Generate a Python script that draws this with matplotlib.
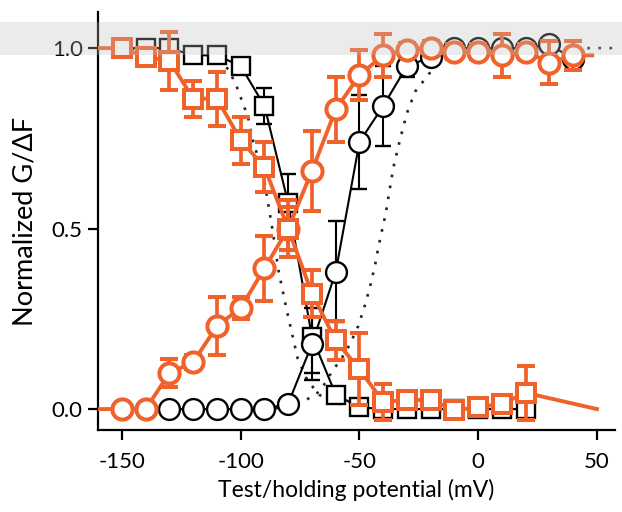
import numpy as np
import matplotlib.pyplot as plt
from matplotlib.patches import Rectangle

plt.rcParams['axes.unicode_minus'] = False

# test / holding potentials (mV)
volts = [-150, -140, -130, -120, -110, -100, -90, -80, -70, -60, -50,
         -40, -30, -20, -10, 0, 10, 20, 30, 40]

# black: conductance activation (circles) and inactivation (squares)
g_act = [0.0, 0.0, 0.0, 0.0, 0.0, 0.0, 0.0, 0.015, 0.18, 0.38, 0.74,
         0.84, 0.95, 0.975, 1.0, 1.0, 1.0, 1.0, 1.01, 0.97]
g_act_err = [0, 0, 0, 0, 0, 0, 0, 0.01, 0.1, 0.14, 0.13,
             0.11, 0.03, 0.02, 0.01, 0.01, 0.01, 0.01, 0.01, 0.02]
g_inact = [1.0, 1.0, 1.0, 0.98, 0.98, 0.95, 0.84, 0.57, 0.2, 0.04, 0.005,
           0.0, 0.0, 0.0, 0.0, 0.0, 0.0, 0.0]
g_inact_err = [0.01, 0.01, 0.01, 0.01, 0.01, 0.01, 0.05, 0.08, 0.1, 0.02, 0.01,
               0.01, 0.01, 0.01, 0.01, 0.01, 0.01, 0.02]

# orange: fluorescence activation (circles) and inactivation (squares)
f_act = [0.0, 0.0, 0.10, 0.13, 0.23, 0.28, 0.39, 0.50, 0.66, 0.83, 0.925,
         0.98, 0.995, 1.0, 0.99, 0.99, 0.98, 0.99, 0.96, 0.98]
f_act_err = [0, 0, 0.04, 0.02, 0.08, 0.03, 0.09, 0.06, 0.11, 0.09, 0.07,
             0.06, 0.02, 0.02, 0.02, 0.02, 0.06, 0.02, 0.06, 0.04]
f_inact = [1.0, 0.975, 0.965, 0.86, 0.86, 0.745, 0.67, 0.50, 0.32, 0.19, 0.11,
           0.02, 0.025, 0.025, -0.003, 0.005, 0.015, 0.045]
f_inact_err = [0.02, 0.01, 0.08, 0.05, 0.075, 0.065, 0.07, 0.08, 0.065, 0.055, 0.1,
               0.05, 0.02, 0.02, 0.02, 0.02, 0.02, 0.075]

# dotted reference curves
ref_inact_v = [-160, -120, -110, -105, -101.5, -97, -94.7, -90.5, -86.7, -84,
               -80.5, -76, -72, -67, -62, -55, -45]
ref_inact = [1.0, 0.995, 0.97, 0.94, 0.89, 0.81, 0.74, 0.65, 0.5, 0.38,
             0.27, 0.14, 0.08, 0.04, 0.02, 0.01, 0.0]
ref_act_v = [-90, -80, -73.7, -66.5, -61, -58, -54, -50.5, -47.6, -45.5, -43.4,
             -42, -39, -35.7, -32.8, -30, -26.5, -22.3, -19.4, -14, -5, 10, 30, 57.6]
ref_act = [0.0, 0.005, 0.02, 0.05, 0.11, 0.135, 0.18, 0.23, 0.29, 0.34, 0.4,
           0.45, 0.54, 0.67, 0.75, 0.82, 0.88, 0.915, 0.94, 0.97, 0.99, 1.0, 1.0, 1.0]

orange = '#f0622a'

fig = plt.figure(figsize=(6.22, 5.12), dpi=100)
ax = fig.add_axes([98 / 622, 82 / 512, 517 / 622, 418 / 512])

ax.plot(ref_inact_v, ref_inact, ls=(0, (1, 3.2)), lw=1.9, color='#222222', zorder=1)
ax.plot(ref_act_v, ref_act, ls=(0, (1, 3.2)), lw=1.9, color='#222222', zorder=1)

sq_v = volts[:len(g_inact)]

# black series
ax.plot(volts, g_act, color='black', lw=1.5, zorder=2)
ax.plot(sq_v, g_inact, color='black', lw=1.5, zorder=2)
ax.errorbar(sq_v, g_inact, yerr=g_inact_err, fmt='s', ms=13, mfc='white', mec='black',
            mew=1.7, ecolor='black', elinewidth=1.5, capsize=6, capthick=1.5, zorder=3)
ax.errorbar(volts, g_act, yerr=g_act_err, fmt='o', ms=15, mfc='white', mec='black',
            mew=1.7, ecolor='black', elinewidth=1.5, capsize=6, capthick=1.5, zorder=3)

# orange series, lines run across the whole range
ax.plot([-160] + volts + [48], [0.0] + f_act + [0.98], color=orange, lw=2.8, zorder=4)
ax.plot([-160] + sq_v + [50], [1.0] + f_inact + [0.0], color=orange, lw=2.8, zorder=4)
ax.errorbar(volts, f_act, yerr=f_act_err, fmt='o', ms=14.5, mfc='white', mec=orange,
            mew=2.9, ecolor=orange, elinewidth=2.7, capsize=6.5, capthick=2.7, zorder=5)
ax.errorbar(sq_v, f_inact, yerr=f_inact_err, fmt='s', ms=13, mfc='white', mec=orange,
            mew=2.9, ecolor=orange, elinewidth=2.7, capsize=6.5, capthick=2.7, zorder=5)

ax.set_xlim(-160.1, 57.6)
ax.set_ylim(-0.058, 1.1)
ax.set_xticks([-150, -100, -50, 0, 50])
ax.set_yticks([0.0, 0.5, 1.0])
ax.set_yticklabels(['0.0', '0.5', '1.0'])
for s in ['top', 'right']:
    ax.spines[s].set_visible(False)
for s in ['left', 'bottom']:
    ax.spines[s].set_linewidth(1.6)
ax.tick_params(width=1.6, length=7, labelsize=16, colors='black')
ax.tick_params(axis='x', pad=9)
ax.tick_params(axis='y', pad=4)
for lab in ax.get_xticklabels() + ax.get_yticklabels():
    lab.set_family('Lato')

ax.set_xlabel('Test/holding potential (mV)', fontsize=16.5, family='Lato', labelpad=5)
ax.set_ylabel('Normalized G/ΔF', fontsize=19.5, family='Lato', labelpad=10)

# translucent grey strip across the top
ax.add_artist(Rectangle((0, 1 - 55 / 512), 1, 33 / 512, transform=fig.transFigure,
                        facecolor='#bebebe', alpha=0.3, edgecolor='none',
                        clip_on=False, zorder=10))

fig.savefig('out.png', dpi=100)
